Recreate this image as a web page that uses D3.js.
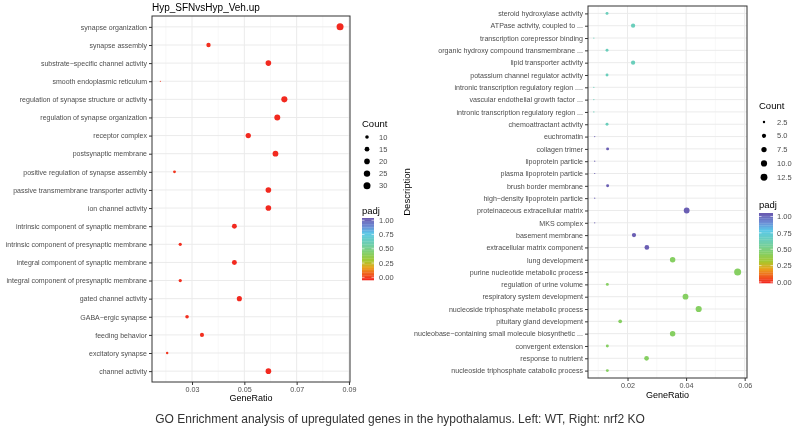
<!DOCTYPE html>
<html lang="en">
<head>
<meta charset="utf-8">
<script src="https://d3js.org/d3.v7.min.js"></script>
<style>
    body { margin: 0; background: white; }
    svg { font-family: "Liberation Sans", Arial, sans-serif; will-change: transform; }
</style>
</head>
<body>
<svg width="799" height="435"></svg>
<script>
// left chart (WT)
const leftTerms = ['synapse organization', 'synapse assembly', 'substrate\u2212specific channel activity',
    'smooth endoplasmic reticulum', 'regulation of synapse structure or activity',
    'regulation of synapse organization', 'receptor complex', 'postsynaptic membrane',
    'positive regulation of synapse assembly', 'passive transmembrane transporter activity',
    'ion channel activity', 'intrinsic component of synaptic membrane',
    'intrinsic component of presynaptic membrane', 'integral component of synaptic membrane',
    'integral component of presynaptic membrane', 'gated channel activity', 'GABA\u2212ergic synapse',
    'feeding behavior', 'excitatory synapse', 'channel activity'];
const leftRatio = [0.0866, 0.0363, 0.0592, 0.0179, 0.0653, 0.0626, 0.0515, 0.0619, 0.0233, 0.0592,
    0.0592, 0.0462, 0.0255, 0.0462, 0.0255, 0.0481, 0.0281, 0.0338, 0.0205, 0.0592];
const leftCount = [30, 13, 20, 6, 23, 22, 18, 21, 8, 20, 20, 16, 9, 16, 9, 17, 10, 12, 7, 20];
const leftPadj = [0.01, 0.02, 0.01, 0.03, 0.01, 0.01, 0.01, 0.01, 0.03, 0.01,
    0.01, 0.01, 0.02, 0.01, 0.02, 0.01, 0.02, 0.02, 0.03, 0.01];
const leftXTicks = [0.03, 0.05, 0.07, 0.09];
const leftCountBreaks = [10, 15, 20, 25, 30];

// right chart (nrf2 KO)
const rightTerms = ['steroid hydroxylase activity', 'ATPase activity, coupled to ...',
    'transcription corepressor binding', 'organic hydroxy compound transmembrane ...',
    'lipid transporter activity', 'potassium channel regulator activity',
    'intronic transcription regulatory region ....', 'vascular endothelial growth factor ...',
    'intronic transcription regulatory region ...', 'chemoattractant activity', 'euchromatin',
    'collagen trimer', 'lipoprotein particle', 'plasma lipoprotein particle', 'brush border membrane',
    'high\u2212density lipoprotein particle', 'proteinaceous extracellular matrix', 'MKS complex',
    'basement membrane', 'extracellular matrix component', 'lung development',
    'purine nucleotide metabolic process', 'regulation of urine volume',
    'respiratory system development', 'nucleoside triphosphate metabolic process',
    'pituitary gland development', 'nucleobase\u2212containing small molecule biosynthetic ...',
    'convergent extension', 'response to nutrient', 'nucleoside triphosphate catabolic process'];
const rightRatio = [0.0130, 0.0219, 0.0085, 0.0130, 0.0219, 0.0130, 0.0085, 0.0085, 0.0085, 0.0130,
    0.0088, 0.0132, 0.0088, 0.0088, 0.0132, 0.0088, 0.0402, 0.0088, 0.0222, 0.0266,
    0.0354, 0.0576, 0.0131, 0.0398, 0.0443, 0.0175, 0.0354, 0.0131, 0.0265, 0.0131];
const rightCount = [3, 5, 2, 3, 5, 3, 2, 2, 2, 3, 2, 3, 2, 2, 3, 2, 9, 2, 5, 6,
    8, 13, 3, 9, 10, 4, 8, 3, 6, 3];
const rightPadj = [0.62, 0.62, 0.62, 0.62, 0.62, 0.62, 0.62, 0.62, 0.62, 0.62,
    0.98, 0.98, 0.98, 0.98, 0.98, 0.98, 0.98, 0.98, 0.98, 0.98,
    0.42, 0.42, 0.42, 0.42, 0.42, 0.42, 0.42, 0.42, 0.42, 0.42];
const rightXTicks = [0.02, 0.04, 0.06];
const rightCountBreaks = [2.5, 5.0, 7.5, 10.0, 12.5];

const padjBreaks = [0, 0.25, 0.5, 0.75, 1];

// rainbow-ish padj colour scale
const color = d3.scaleLinear()
    .domain([0, 0.1, 0.2, 0.3, 0.42, 0.55, 0.65, 0.75, 0.86, 1])
    .range(['#f2231f', '#f0611e', '#eaa21c', '#a8c62c', '#86cf62', '#72cfa2', '#66cdc6', '#5ac8e8', '#6c8ed6', '#6a56ad']);

const svg = d3.select('svg');

function drawPanel(opt) {
    const x = d3.scaleLinear().domain(opt.xDomain).range([opt.left, opt.right]);
    const y = d3.scalePoint().domain(opt.terms).range([opt.top, opt.bottom]).padding(0.6);
    const r = c => opt.rMin + (opt.rMax - opt.rMin) * Math.sqrt((c - opt.cMin) / (opt.cMax - opt.cMin));

    const g = svg.append('g');

    // minor grid
    const step = opt.xTicks[1] - opt.xTicks[0];
    const minor = d3.range(opt.xTicks[0] - step / 2, opt.xDomain[1], step).filter(v => v > opt.xDomain[0]);
    g.selectAll('.minor').data(minor).join('line')
        .attr('x1', d => x(d)).attr('x2', d => x(d))
        .attr('y1', opt.top).attr('y2', opt.bottom)
        .attr('stroke', '#f3f3f3').attr('stroke-width', 0.6);
    // major grid
    g.selectAll('.majx').data(opt.xTicks).join('line')
        .attr('x1', d => x(d)).attr('x2', d => x(d))
        .attr('y1', opt.top).attr('y2', opt.bottom)
        .attr('stroke', '#ebebeb').attr('stroke-width', 1);
    g.selectAll('.majy').data(opt.terms).join('line')
        .attr('x1', opt.left).attr('x2', opt.right)
        .attr('y1', d => y(d)).attr('y2', d => y(d))
        .attr('stroke', '#ebebeb').attr('stroke-width', 1);

    // points
    g.selectAll('circle').data(opt.terms).join('circle')
        .attr('cx', (d, i) => x(opt.ratio[i]))
        .attr('cy', d => y(d))
        .attr('r', (d, i) => r(opt.count[i]))
        .attr('fill', (d, i) => color(opt.padj[i]));

    // border
    g.append('rect')
        .attr('x', opt.left).attr('y', opt.top)
        .attr('width', opt.right - opt.left).attr('height', opt.bottom - opt.top)
        .attr('fill', 'none').attr('stroke', '#333').attr('stroke-width', 1);

    // y axis
    const ya = g.append('g').attr('transform', `translate(${opt.left},0)`)
        .call(d3.axisLeft(y).tickSize(3).tickPadding(2));
    ya.select('.domain').remove();
    ya.selectAll('line').attr('stroke', '#333');
    ya.selectAll('text').style('font-size', opt.yFont + 'px').attr('fill', '#4d4d4d');

    // x axis
    const xa = g.append('g').attr('transform', `translate(0,${opt.bottom})`)
        .call(d3.axisBottom(x).tickValues(opt.xTicks).tickFormat(d3.format('.2f')).tickSize(3).tickPadding(1.5));
    xa.select('.domain').remove();
    xa.selectAll('line').attr('stroke', '#333');
    xa.selectAll('text').style('font-size', '7.2px').attr('fill', '#4d4d4d');

    g.append('text')
        .attr('x', (opt.left + opt.right) / 2).attr('y', opt.xLabY)
        .attr('text-anchor', 'middle').style('font-size', '9px')
        .text('GeneRatio');

    // size legend
    const lg = opt.legend;
    g.append('text').attr('x', lg.x).attr('y', lg.countY).style('font-size', '9.5px').text('Count');
    opt.countBreaks.forEach((c, i) => {
        const yy = lg.sizeY0 + i * lg.sizeStep;
        g.append('circle').attr('cx', lg.x + 5).attr('cy', yy).attr('r', r(c)).attr('fill', 'black');
        g.append('text').attr('x', lg.labX).attr('y', yy).attr('dy', '0.35em')
            .style('font-size', '7.5px').attr('fill', '#4d4d4d')
            .text(d3.format('.' + opt.countDigits + 'f')(c));
    });

    // colour bar
    g.append('text').attr('x', lg.x).attr('y', lg.padjY).style('font-size', '9.5px').text('padj');
    const cb = d3.scaleLinear().domain([0, 1]).range([lg.cb0, lg.cb1]);
    const n = 40;
    const h = (lg.barBottom - lg.barTop) / n;
    d3.range(n).forEach(k => {
        const v = 1 - (k + 0.5) / n;
        g.append('rect').attr('x', lg.x).attr('y', lg.barTop + k * h)
            .attr('width', lg.barW).attr('height', h + 0.3)
            .attr('fill', color(v));
    });
    padjBreaks.forEach(b => {
        g.append('line').attr('x1', lg.x).attr('x2', lg.x + 2.5).attr('y1', cb(b)).attr('y2', cb(b))
            .attr('stroke', 'white').attr('stroke-width', 0.6);
        g.append('line').attr('x1', lg.x + lg.barW - 2.5).attr('x2', lg.x + lg.barW).attr('y1', cb(b)).attr('y2', cb(b))
            .attr('stroke', 'white').attr('stroke-width', 0.6);
        g.append('text').attr('x', lg.labX).attr('y', cb(b)).attr('dy', '0.35em')
            .style('font-size', '7.5px').attr('fill', '#4d4d4d')
            .text(d3.format('.2f')(b));
    });
    return g;
}

drawPanel({
    terms: leftTerms, ratio: leftRatio, count: leftCount, padj: leftPadj,
    xTicks: leftXTicks, countBreaks: leftCountBreaks, countDigits: 0,
    xDomain: [0.0147, 0.0904],
    left: 152, right: 350, top: 16, bottom: 382,
    rMin: 0.6, rMax: 3.5, cMin: 6, cMax: 30,
    yFont: 7.0, xLabY: 401,
    legend: { x: 362, labX: 379, countY: 127, sizeY0: 137, sizeStep: 12.2,
        padjY: 214, barTop: 218, barBottom: 280, barW: 12, cb0: 277.3, cb1: 220.3 }
});

drawPanel({
    terms: rightTerms, ratio: rightRatio, count: rightCount, padj: rightPadj,
    xTicks: rightXTicks, countBreaks: rightCountBreaks, countDigits: 1,
    xDomain: [0.0065, 0.0608],
    left: 588, right: 747, top: 6, bottom: 378,
    rMin: 0.6, rMax: 3.5, cMin: 2, cMax: 13,
    yFont: 7.1, xLabY: 398,
    legend: { x: 759, labX: 777, countY: 109, sizeY0: 122, sizeStep: 13.8,
        padjY: 208, barTop: 213, barBottom: 283, barW: 14, cb0: 282, cb1: 216.5 }
});

// top-left title
svg.append('text').attr('x', 152).attr('y', 11).style('font-size', '10px')
    .text('Hyp_SFNvsHyp_Veh.up');

// right y axis title
svg.append('text')
    .attr('transform', 'translate(410,192) rotate(-90)')
    .attr('text-anchor', 'middle').style('font-size', '9.5px')
    .text('Description');

// caption
svg.append('text').attr('x', 400).attr('y', 423).attr('text-anchor', 'middle')
    .style('font-size', '12px').attr('fill', '#333')
    .text('GO Enrichment analysis of upregulated genes in the hypothalamus. Left: WT, Right: nrf2 KO');
</script>
</body>
</html>
